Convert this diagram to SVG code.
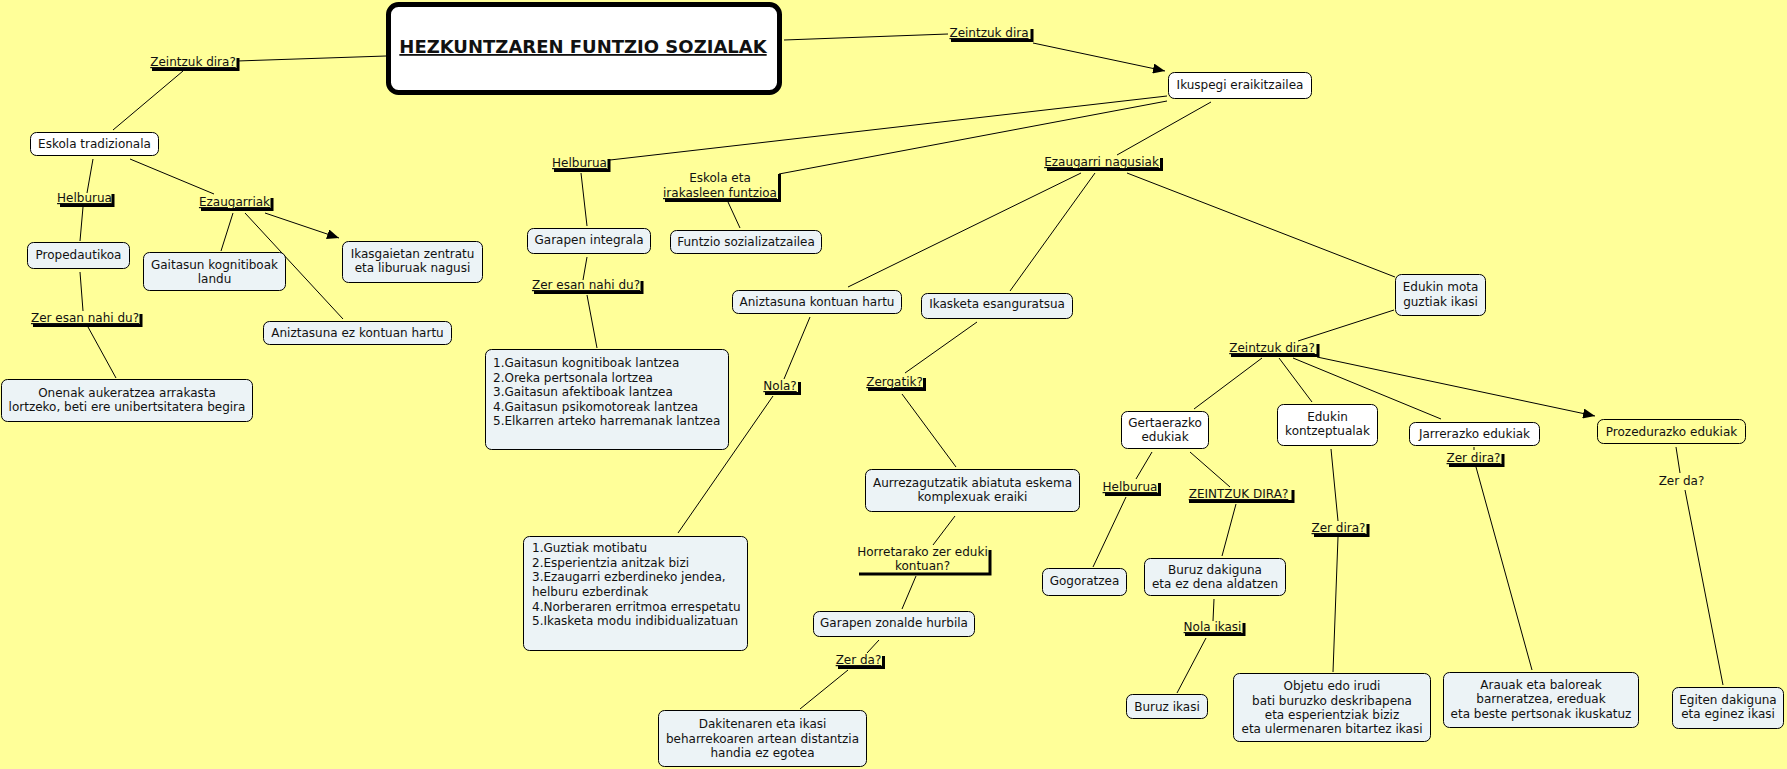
<svg xmlns="http://www.w3.org/2000/svg" width="1787" height="769" viewBox="0 0 1787 769">
<defs>
<style>
text{font-family:"DejaVu Sans",Verdana,sans-serif;font-size:12px;fill:#111}
.m{text-anchor:middle}
.u{text-decoration:underline}
.n{stroke:#000;stroke-width:1}
.w{fill:#fff}
.b{fill:#ECF3F6}
.y{fill:#FFFF99}
.c line{stroke:#000;stroke-width:1}
.sh{fill:none;stroke:#000;stroke-width:3;stroke-linejoin:miter}
.t{font-size:18px;font-weight:bold;text-decoration:underline}
</style>
<marker id="ah" markerWidth="12" markerHeight="10" refX="12" refY="5" orient="auto" markerUnits="userSpaceOnUse"><path d="M0,0L12,5L0,10z" fill="#000"/></marker>
</defs>
<rect x="0" y="0" width="1787" height="769" fill="#FFFF99"/>

<g id="connectors" class="c">
<line x1="386" y1="56" x2="237" y2="61"/>
<line x1="183" y1="71" x2="113" y2="130"/>
<line x1="93" y1="159" x2="87" y2="193"/>
<line x1="83" y1="207" x2="80" y2="241"/>
<line x1="80" y1="272" x2="83" y2="311"/>
<line x1="88" y1="327" x2="116" y2="378"/>
<line x1="130" y1="159" x2="214" y2="194"/>
<line x1="233" y1="213" x2="221" y2="251"/>
<line x1="245" y1="213" x2="343" y2="319"/>
<line x1="265" y1="213" x2="339" y2="238" marker-end="url(#ah)"/>
<line x1="784" y1="40" x2="948" y2="34"/>
<line x1="1033" y1="43" x2="1165" y2="71" marker-end="url(#ah)"/>
<line x1="1167" y1="96" x2="610" y2="160"/>
<line x1="1167" y1="101" x2="779" y2="174"/>
<line x1="1211" y1="102" x2="1117" y2="155"/>
<line x1="581" y1="173" x2="587" y2="226"/>
<line x1="587" y1="257" x2="583" y2="280"/>
<line x1="587" y1="295" x2="597" y2="348"/>
<line x1="728" y1="202" x2="740" y2="228"/>
<line x1="1081" y1="173" x2="848" y2="287"/>
<line x1="1095" y1="173" x2="1010" y2="291"/>
<line x1="1127" y1="173" x2="1395" y2="277"/>
<line x1="810" y1="317" x2="784" y2="379"/>
<line x1="773" y1="396" x2="678" y2="533"/>
<line x1="977" y1="322" x2="905" y2="373"/>
<line x1="902" y1="394" x2="956" y2="467"/>
<line x1="955" y1="516" x2="933" y2="545"/>
<line x1="916" y1="576" x2="902" y2="609"/>
<line x1="879" y1="640" x2="867" y2="653"/>
<line x1="848" y1="670" x2="800" y2="709"/>
<line x1="1394" y1="310" x2="1298" y2="341"/>
<line x1="1262" y1="358" x2="1194" y2="409"/>
<line x1="1279" y1="358" x2="1312" y2="402"/>
<line x1="1293" y1="358" x2="1441" y2="419"/>
<line x1="1317" y1="357" x2="1595" y2="416" marker-end="url(#ah)"/>
<line x1="1152" y1="452" x2="1136" y2="479"/>
<line x1="1126" y1="497" x2="1093" y2="567"/>
<line x1="1190" y1="452" x2="1230" y2="487"/>
<line x1="1236" y1="504" x2="1222" y2="556"/>
<line x1="1214" y1="599" x2="1213" y2="621"/>
<line x1="1206" y1="638" x2="1177" y2="693"/>
<line x1="1331" y1="449" x2="1338" y2="521"/>
<line x1="1338" y1="537" x2="1333" y2="672"/>
<line x1="1474" y1="447" x2="1474" y2="450"/>
<line x1="1476" y1="467" x2="1532" y2="670"/>
<line x1="1676" y1="447" x2="1680" y2="473"/>
<line x1="1685" y1="490" x2="1723" y2="685"/>
</g>

<g id="title">
<rect x="388.5" y="4.5" width="391" height="88" rx="10" fill="#fff" stroke="#000" stroke-width="5"/>
<text class="m t" x="583" y="53">HEZKUNTZAREN FUNTZIO SOZIALAK</text>
</g>

<g id="lbl-zeintzuk1"><polyline class="sh" points="152,69.5 238,69.5 238,58"/><text class="m u" x="193" y="66">Zeintzuk dira?</text></g>
<g id="lbl-zeintzuk2"><polyline class="sh" points="951,40.5 1032,40.5 1032,29"/><text class="m u" x="989" y="37">Zeintzuk dira</text></g>
<g id="lbl-helburua1"><polyline class="sh" points="60,205.5 113,205.5 113,194"/><text class="m u" x="84.5" y="202">Helburua</text></g>
<g id="lbl-ezaugarriak"><polyline class="sh" points="201,209.5 272,209.5 272,198"/><text class="m u" x="234.5" y="206">Ezaugarriak</text></g>
<g id="lbl-zeresan1"><polyline class="sh" points="33,325.5 141,325.5 141,314"/><text class="m u" x="85" y="322">Zer esan nahi du?</text></g>
<g id="lbl-helburua2"><polyline class="sh" points="554,170.5 609,170.5 609,159"/><text class="m u" x="579.5" y="167">Helburua</text></g>
<g id="lbl-eskolaeta"><polyline class="sh" points="665,200.5 779.5,200.5 779.5,174"/><text class="m" x="720" y="182">Eskola eta</text><text class="m u" x="720" y="197">irakasleen funtzioa</text></g>
<g id="lbl-zeresan2"><polyline class="sh" points="534,292.5 642,292.5 642,281"/><text class="m u" x="586" y="289">Zer esan nahi du?</text></g>
<g id="lbl-ezaugarrinagusiak"><polyline class="sh" points="1047,169.5 1161.5,169.5 1161.5,158"/><text class="m u" x="1101.5" y="166">Ezaugarri nagusiak</text></g>
<g id="lbl-nola"><polyline class="sh" points="765,393.5 799.5,393.5 799.5,382"/><text class="m u" x="780" y="390">Nola?</text></g>
<g id="lbl-zergatik"><polyline class="sh" points="868,389.5 924.5,389.5 924.5,378"/><text class="m u" x="894.5" y="386">Zergatik?</text></g>
<g id="lbl-horretarako"><polyline class="sh" points="859,574 990,574 990,550" stroke-width="4"/><text class="m" x="922.5" y="556">Horretarako zer eduki</text><text class="m" x="922.5" y="570">kontuan?</text></g>
<g id="lbl-zerda1"><polyline class="sh" points="838,667.5 883.5,667.5 883.5,656"/><text class="m u" x="858.5" y="664">Zer da?</text></g>
<g id="lbl-zeintzuk3"><polyline class="sh" points="1231,355.5 1318,355.5 1318,344"/><text class="m u" x="1272" y="352">Zeintzuk dira?</text></g>
<g id="lbl-helburua3"><polyline class="sh" points="1105,494.5 1159.5,494.5 1159.5,483"/><text class="m u" x="1130" y="491">Helburua</text></g>
<g id="lbl-zeintzukdira"><polyline class="sh" points="1189,501.5 1293,501.5 1293,490"/><text class="m u" x="1238.5" y="498">ZEINTZUK DIRA?</text></g>
<g id="lbl-nolaikasi"><polyline class="sh" points="1185,634.5 1244,634.5 1244,623"/><text class="m u" x="1212.5" y="631">Nola ikasi</text></g>
<g id="lbl-zerdira1"><polyline class="sh" points="1314,535.5 1368,535.5 1368,524"/><text class="m u" x="1338.5" y="532">Zer dira?</text></g>
<g id="lbl-zerdira2"><polyline class="sh" points="1449,465.5 1503,465.5 1503,454"/><text class="m u" x="1473.5" y="462">Zer dira?</text></g>
<g id="lbl-zerda2"><text class="m" x="1681.5" y="485">Zer da?</text></g>

<g id="n-eskola"><rect class="n w" x="30.5" y="132.5" width="128" height="23" rx="6"/><text class="m" x="94.5" y="148">Eskola tradizionala</text></g>
<g id="n-propedautikoa"><rect class="n b" x="27.5" y="242.5" width="102" height="26" rx="6"/><text class="m" x="78.5" y="259">Propedautikoa</text></g>
<g id="n-onenak"><rect class="n b" x="1.5" y="379.5" width="251" height="42" rx="6"/><text class="m" x="127" y="397">Onenak aukeratzea arrakasta</text><text class="m" x="127" y="411">lortzeko, beti ere unibertsitatera begira</text></g>
<g id="n-gaitasun"><rect class="n b" x="143.5" y="252.5" width="142" height="38" rx="6"/><text class="m" x="214.5" y="269">Gaitasun kognitiboak</text><text class="m" x="214.5" y="283">landu</text></g>
<g id="n-ikasgaietan"><rect class="n b" x="342.5" y="241.5" width="140" height="41" rx="6"/><text class="m" x="412.5" y="258">Ikasgaietan zentratu</text><text class="m" x="412.5" y="272">eta liburuak nagusi</text></g>
<g id="n-aniztasunaez"><rect class="n b" x="263.5" y="321.5" width="188" height="23" rx="6"/><text class="m" x="357.5" y="337">Aniztasuna ez kontuan hartu</text></g>
<g id="n-garapenintegrala"><rect class="n b" x="527.5" y="228.5" width="123" height="25" rx="6"/><text class="m" x="589" y="244">Garapen integrala</text></g>
<g id="n-funtzio"><rect class="n b" x="670.5" y="230.5" width="151" height="23" rx="6"/><text class="m" x="746" y="246">Funtzio sozializatzailea</text></g>
<g id="n-list1"><rect class="n b" x="485.5" y="349.5" width="243" height="100" rx="6"/>
<text x="493" y="367">1.Gaitasun kognitiboak lantzea</text>
<text x="493" y="382">2.Oreka pertsonala lortzea</text>
<text x="493" y="396">3.Gaitasun afektiboak lantzea</text>
<text x="493" y="411">4.Gaitasun psikomotoreak lantzea</text>
<text x="493" y="425">5.Elkarren arteko harremanak lantzea</text></g>
<g id="n-ikuspegi"><rect class="n w" x="1168.5" y="72.5" width="143" height="26" rx="6"/><text class="m" x="1240" y="89">Ikuspegi eraikitzailea</text></g>
<g id="n-aniztasuna"><rect class="n b" x="732.5" y="290.5" width="169" height="23" rx="6"/><text class="m" x="817" y="306">Aniztasuna kontuan hartu</text></g>
<g id="n-ikasketa"><rect class="n b" x="921.5" y="293.5" width="151" height="25" rx="6"/><text class="m" x="997" y="308">Ikasketa esanguratsua</text></g>
<g id="n-edukinmota"><rect class="n b" x="1395.5" y="274.5" width="90" height="41" rx="6"/><text class="m" x="1440.5" y="291">Edukin mota</text><text class="m" x="1440.5" y="306">guztiak ikasi</text></g>
<g id="n-list2"><rect class="n b" x="523.5" y="536.5" width="224" height="114" rx="6"/>
<text x="532" y="552">1.Guztiak motibatu</text>
<text x="532" y="567">2.Esperientzia anitzak bizi</text>
<text x="532" y="581">3.Ezaugarri ezberdineko jendea,</text>
<text x="532" y="596">helburu ezberdinak</text>
<text x="532" y="611">4.Norberaren erritmoa errespetatu</text>
<text x="532" y="625">5.Ikasketa modu indibidualizatuan</text></g>
<g id="n-aurrez"><rect class="n b" x="865.5" y="469.5" width="214" height="42" rx="6"/><text class="m" x="972.5" y="487">Aurrezagutzatik abiatuta eskema</text><text class="m" x="972.5" y="501">komplexuak eraiki</text></g>
<g id="n-garapenzonalde"><rect class="n b" x="813.5" y="611.5" width="161" height="25" rx="6"/><text class="m" x="894" y="627">Garapen zonalde hurbila</text></g>
<g id="n-dakitenaren"><rect class="n b" x="658.5" y="710.5" width="208" height="56" rx="6"/><text class="m" x="762.5" y="728">Dakitenaren eta ikasi</text><text class="m" x="762.5" y="743">beharrekoaren artean distantzia</text><text class="m" x="762.5" y="757">handia ez egotea</text></g>
<g id="n-gertaerazko"><rect class="n w" x="1121.5" y="411.5" width="87" height="37" rx="6"/><text class="m" x="1165" y="427">Gertaerazko</text><text class="m" x="1165" y="441">edukiak</text></g>
<g id="n-kontzeptualak"><rect class="n w" x="1277.5" y="404.5" width="100" height="41" rx="6"/><text class="m" x="1327.5" y="421">Edukin</text><text class="m" x="1327.5" y="435">kontzeptualak</text></g>
<g id="n-jarrerazko"><rect class="n w" x="1409.5" y="422.5" width="130" height="23" rx="6"/><text class="m" x="1474.5" y="438">Jarrerazko edukiak</text></g>
<g id="n-prozedurazko"><rect class="n y" x="1597.5" y="419.5" width="148" height="24" rx="6"/><text class="m" x="1671.5" y="436">Prozedurazko edukiak</text></g>
<g id="n-gogoratzea"><rect class="n b" x="1042.5" y="568.5" width="84" height="27" rx="6"/><text class="m" x="1084.5" y="585">Gogoratzea</text></g>
<g id="n-buruzdakiguna"><rect class="n b" x="1144.5" y="558.5" width="141" height="37" rx="6"/><text class="m" x="1215" y="574">Buruz dakiguna</text><text class="m" x="1215" y="588">eta ez dena aldatzen</text></g>
<g id="n-buruzikasi"><rect class="n b" x="1126.5" y="694.5" width="81" height="24" rx="6"/><text class="m" x="1167" y="711">Buruz ikasi</text></g>
<g id="n-objetu"><rect class="n b" x="1233.5" y="673.5" width="197" height="68" rx="6"/><text class="m" x="1332" y="690">Objetu edo irudi</text><text class="m" x="1332" y="705">bati buruzko deskribapena</text><text class="m" x="1332" y="719">eta esperientziak biziz</text><text class="m" x="1332" y="733">eta ulermenaren bitartez ikasi</text></g>
<g id="n-arauak"><rect class="n b" x="1443.5" y="672.5" width="195" height="55" rx="6"/><text class="m" x="1541" y="689">Arauak eta baloreak</text><text class="m" x="1541" y="703">barneratzea, ereduak</text><text class="m" x="1541" y="718">eta beste pertsonak ikuskatuz</text></g>
<g id="n-egiten"><rect class="n b" x="1672.5" y="687.5" width="111" height="41" rx="6"/><text class="m" x="1728" y="704">Egiten dakiguna</text><text class="m" x="1728" y="718">eta eginez ikasi</text></g>
</svg>
